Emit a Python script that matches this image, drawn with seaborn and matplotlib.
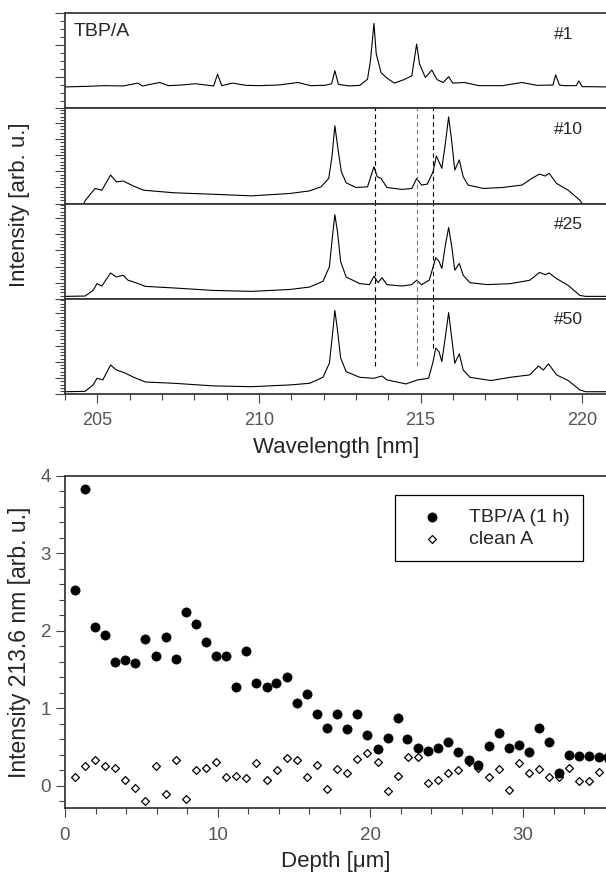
import numpy as np
import pandas as pd
import matplotlib
matplotlib.use('Agg')
import matplotlib.pyplot as plt
from matplotlib.ticker import MultipleLocator
import seaborn as sns

# spectra: wavelength [nm] / intensity [arb. u.]
wl_1 = [204.0, 204.75, 205.2, 205.8, 206.25, 206.4, 206.93, 207.2, 207.6, 208.04, 208.6, 208.72, 208.85,
        209.18, 209.6, 210.0, 210.6, 211.21, 211.6, 212.04, 212.25, 212.35, 212.46, 212.8, 213.12, 213.36,
        213.45, 213.56, 213.63, 213.78, 213.96, 214.19, 214.49, 214.73, 214.88, 214.97, 215.15, 215.35,
        215.51, 215.7, 215.87, 216.0, 216.35, 216.8, 217.54, 218.14, 218.6, 219.1, 219.18, 219.3, 219.45,
        219.82, 219.9, 220.0, 220.77]
int_1 = [0.68, 0.70, 0.72, 0.71, 0.80, 0.71, 0.82, 0.72, 0.74, 0.78, 0.71, 1.08, 0.72,
         0.80, 0.73, 0.72, 0.74, 0.82, 0.72, 0.73, 0.78, 1.19, 0.76, 0.71, 0.73, 0.92,
         1.50, 2.68, 1.72, 1.13, 0.96, 0.80, 0.91, 1.03, 2.03, 1.40, 0.98, 1.21,
         0.91, 0.82, 1.00, 0.80, 0.82, 0.72, 0.72, 0.82, 0.73, 0.74, 1.06, 0.74, 0.72,
         0.72, 0.87, 0.69, 0.68]

wl_10 = [204.5, 204.63, 204.93, 205.14, 205.41, 205.59, 205.80, 206.13, 206.43, 207.38, 208.58, 209.77,
         210.97, 211.57, 211.92, 212.16, 212.26, 212.35, 212.45, 212.55, 212.70, 213.0, 213.36, 213.56,
         213.66, 213.78, 213.96, 214.43, 214.73, 214.88, 215.03, 215.21, 215.39, 215.49, 215.57, 215.66,
         215.77, 215.87, 215.96, 216.06, 216.20, 216.32, 216.47, 216.94, 217.54, 218.14, 218.44, 218.68,
         218.86, 218.98, 219.21, 219.57, 219.93, 220.1]
int_10 = [-0.3, 0.20, 0.94, 0.83, 1.77, 1.35, 1.40, 1.08, 0.83, 0.67, 0.58, 0.48,
          0.63, 0.79, 1.04, 1.56, 2.92, 4.83, 3.33, 1.98, 1.29, 1.00, 1.04, 2.29,
          1.67, 1.56, 1.00, 0.88, 0.94, 1.56, 1.15, 1.21, 1.98, 2.96, 2.60, 2.19,
          3.75, 5.38, 3.96, 2.08, 2.71, 1.67, 1.15, 0.94, 1.00, 1.15, 1.56, 1.83,
          1.71, 1.88, 1.25, 0.83, 0.21, -0.3]

wl_25 = [204.0, 204.62, 204.87, 204.99, 205.14, 205.41, 205.59, 205.80, 205.95, 206.13, 206.49, 207.38,
         208.58, 209.77, 210.97, 211.57, 211.98, 212.18, 212.28, 212.35, 212.43, 212.53, 212.70, 213.12,
         213.42, 213.56, 213.69, 213.81, 213.96, 214.43, 214.73, 214.88, 215.03, 215.27, 215.39, 215.47,
         215.57, 215.66, 215.77, 215.87, 215.96, 216.06, 216.20, 216.32, 216.53, 217.06, 217.78, 218.38,
         218.68, 218.86, 218.98, 219.21, 219.57, 219.93, 220.11, 220.77]
int_25 = [0.15, 0.17, 0.52, 0.94, 0.79, 1.60, 1.35, 1.46, 1.15, 1.04, 0.77, 0.67,
          0.52, 0.46, 0.58, 0.73, 1.08, 1.98, 3.96, 5.21, 4.17, 2.29, 1.35, 0.94,
          0.88, 1.40, 1.00, 1.31, 0.88, 0.79, 0.88, 1.15, 0.88, 1.15, 1.98, 2.54,
          2.33, 1.88, 3.33, 4.42, 3.33, 1.77, 2.19, 1.46, 1.00, 0.88, 0.94, 1.15,
          1.63, 1.50, 1.60, 1.25, 0.83, 0.21, 0.15, 0.15]

wl_50 = [204.0, 204.62, 204.87, 204.99, 205.17, 205.41, 205.59, 205.83, 206.13, 206.49, 207.38, 208.58,
         209.77, 210.97, 211.57, 211.98, 212.18, 212.28, 212.35, 212.43, 212.53, 212.70, 213.12, 213.56,
         213.81, 213.96, 214.55, 214.91, 215.25, 215.39, 215.47, 215.57, 215.66, 215.77, 215.87, 215.96,
         216.06, 216.20, 216.32, 216.53, 217.18, 217.78, 218.38, 218.65, 218.80, 218.96, 219.21, 219.57,
         219.93, 220.11, 220.77]
int_50 = [0.16, 0.18, 0.58, 0.99, 0.89, 1.81, 1.50, 1.34, 1.05, 0.76, 0.68, 0.52,
          0.47, 0.58, 0.68, 1.05, 1.92, 3.77, 5.18, 3.98, 2.23, 1.40, 1.05, 0.99,
          1.13, 0.89, 0.64, 0.89, 0.99, 2.02, 2.85, 2.64, 2.02, 3.57, 5.05, 3.57,
          1.92, 2.50, 1.50, 1.05, 0.85, 1.05, 1.20, 1.75, 1.50, 1.88, 1.20, 0.85,
          0.27, 0.16, 0.16]

spectra = [(wl_1, int_1, '#1'), (wl_10, int_10, '#10'), (wl_25, int_25, '#25'), (wl_50, int_50, '#50')]
lines_nm = [213.6, 214.9, 215.4]
line_col = ['black', '#777777', 'black']
lines_low_50 = [1.75, 1.75, 2.85]   # dashed lines stop above the #50 spectrum

# depth profile
depth_tbp = [0.63, 1.32, 1.95, 2.61, 3.27, 3.93, 4.59, 5.27, 5.93, 6.59, 7.25, 7.90, 8.56, 9.22, 9.88,
             10.54, 11.2, 11.86, 12.52, 13.2, 13.83, 14.52, 15.18, 15.83, 16.52, 17.15, 17.81, 18.47,
             19.15, 19.81, 20.47, 21.13, 21.79, 22.43, 23.11, 23.76, 24.42, 25.08, 25.77, 26.43, 27.08,
             27.74, 28.40, 29.06, 29.72, 30.38, 31.04, 31.69, 32.35, 33.01, 33.67, 34.33, 34.96, 35.55]
int_tbp = [2.53, 3.83, 2.05, 1.95, 1.60, 1.62, 1.59, 1.90, 1.67, 1.92, 1.64, 2.24, 2.09, 1.85, 1.67,
           1.68, 1.28, 1.74, 1.33, 1.27, 1.33, 1.41, 1.07, 1.18, 0.93, 0.74, 0.93, 0.73,
           0.93, 0.66, 0.47, 0.62, 0.87, 0.60, 0.49, 0.45, 0.49, 0.56, 0.43, 0.33, 0.27,
           0.51, 0.68, 0.49, 0.53, 0.44, 0.74, 0.57, 0.16, 0.40, 0.38, 0.39, 0.37, 0.37]
depth_clean = [0.63, 1.32, 1.98, 2.61, 3.27, 3.95, 4.61, 5.27, 5.93, 6.59, 7.25, 7.93, 8.59, 9.25, 9.91,
               10.56, 11.22, 11.88, 12.54, 13.2, 13.86, 14.52, 15.18, 15.83, 16.52, 17.18, 17.84, 18.49,
               19.15, 19.81, 20.47, 21.13, 21.79, 22.45, 23.11, 23.76, 24.42, 25.08, 25.77, 26.43, 27.08,
               27.74, 28.40, 29.06, 29.72, 30.38, 31.04, 31.69, 32.35, 33.01, 33.67, 34.33, 34.96, 35.6]
int_clean = [0.11, 0.26, 0.33, 0.26, 0.23, 0.08, -0.03, -0.20, 0.25, -0.10, 0.33, -0.17, 0.20, 0.23, 0.31,
             0.12, 0.13, 0.10, 0.30, 0.08, 0.20, 0.36, 0.33, 0.12, 0.27, -0.04, 0.22, 0.16,
             0.35, 0.42, 0.31, -0.07, 0.13, 0.37, 0.37, 0.04, 0.08, 0.17, 0.21, 0.31, 0.23,
             0.12, 0.22, -0.06, 0.29, 0.16, 0.22, 0.11, 0.12, 0.23, 0.06, 0.06, 0.18, 0.32]

sns.set_theme(style='ticks')
plt.rcParams['font.family'] = ['Liberation Sans', 'DejaVu Sans']
plt.rcParams['axes.edgecolor'] = '#333333'
plt.rcParams['xtick.color'] = '#444444'
plt.rcParams['ytick.color'] = '#444444'
plt.rcParams['xtick.labelcolor'] = '#555555'
plt.rcParams['ytick.labelcolor'] = '#555555'

W, H = 606, 872
fig = plt.figure(figsize=(W / 100, H / 100), dpi=100)


def box(x0, y0, x1, y1):
    return [x0 / W, 1 - y1 / H, (x1 - x0) / W, (y1 - y0) / H]


# ---- stacked spectra
edges = [13.3, 108.5, 203.6, 298.8, 394.3]
for i, (wl, it, tag) in enumerate(spectra):
    ax = fig.add_axes(box(65, edges[i], 607, edges[i + 1]))
    df = pd.DataFrame({'wl': wl, 'I': it})
    sns.lineplot(data=df, x='wl', y='I', color='black', lw=0.8, ax=ax, sort=False)
    ax.set_xlim(204, 220.77)
    if i == 0:
        ax.set_ylim(0, 3)
        ax.yaxis.set_major_locator(MultipleLocator(1))
        ax.yaxis.set_minor_locator(MultipleLocator(0.25))
        ax.text(0.016, 0.81, 'TBP/A', transform=ax.transAxes, fontsize=14, va='center', ha='left')
    else:
        ax.set_ylim(0, 5.9)
        ax.yaxis.set_major_locator(MultipleLocator(1))
        ax.yaxis.set_minor_locator(MultipleLocator(0.2))
        for k, x in enumerate(lines_nm):
            lo = lines_low_50[k] if i == 3 else 0
            ax.vlines(x, lo, 5.9, colors=line_col[k], linestyles=(0, (4, 3)), lw=0.8)
    ax.text(0.902, 0.78, tag, transform=ax.transAxes, fontsize=12.5, va='center', ha='left')
    ax.set_yticklabels([])
    ax.set_ylabel('')
    ax.set_xlabel('')
    ax.tick_params(axis='y', which='major', length=7, width=0.8)
    ax.tick_params(axis='y', which='minor', length=3.5, width=0.8)
    ax.spines['right'].set_visible(False)
    if i < 3:
        ax.set_xticks([])
        ax.tick_params(axis='x', which='both', length=0)
    else:
        ax.xaxis.set_major_locator(MultipleLocator(5))
        ax.xaxis.set_minor_locator(MultipleLocator(1))
        ax.tick_params(axis='x', which='major', length=6.5, width=0.8, labelsize=13, pad=6)
        ax.tick_params(axis='x', which='minor', length=4, width=0.8)
        ax.set_xlabel('Wavelength [nm]', fontsize=16, labelpad=6)

fig.text(20 / W, 1 - 205 / H, 'Intensity [arb. u.]', rotation=90, fontsize=16, ha='center', va='center')

# ---- depth profile
ax2 = fig.add_axes(box(65, 475.7, 607, 808.3))
df_t = pd.DataFrame({'depth': depth_tbp, 'I': int_tbp})
df_c = pd.DataFrame({'depth': depth_clean, 'I': int_clean})
sns.scatterplot(data=df_c, x='depth', y='I', marker='D', s=16, facecolor='white', edgecolor='black',
                linewidth=0.9, label='clean A', ax=ax2, zorder=2)
sns.scatterplot(data=df_t, x='depth', y='I', marker='o', s=44, color='black', edgecolor='black',
                linewidth=0.5, label='TBP/A (1 h)', ax=ax2, zorder=3)
ax2.set_xlim(0, 35.5)
ax2.set_ylim(-0.29, 4.0)
ax2.xaxis.set_major_locator(MultipleLocator(10))
ax2.xaxis.set_minor_locator(MultipleLocator(2))
ax2.yaxis.set_major_locator(MultipleLocator(1))
ax2.yaxis.set_minor_locator(MultipleLocator(0.2))
ax2.tick_params(which='major', length=6.5, width=0.8, labelsize=13.5)
ax2.tick_params(axis='x', which='major', pad=7)
ax2.tick_params(which='minor', length=4, width=0.8)
ax2.spines['right'].set_visible(False)
ax2.set_xlabel('Depth [μm]', fontsize=16, labelpad=5)
ax2.set_ylabel('Intensity 213.6 nm [arb. u.]', fontsize=16.5, labelpad=7)
h, l = ax2.get_legend_handles_labels()
leg = ax2.legend(h[::-1], l[::-1], loc='upper right', bbox_to_anchor=(0.956, 0.942), fontsize=14,
                 frameon=True, fancybox=False, edgecolor='black', framealpha=1, borderpad=0.7,
                 handletextpad=0.7, handlelength=2.4, labelspacing=0.2, borderaxespad=0)
leg.get_frame().set_linewidth(0.9)

fig.savefig('out.png', dpi=100)
